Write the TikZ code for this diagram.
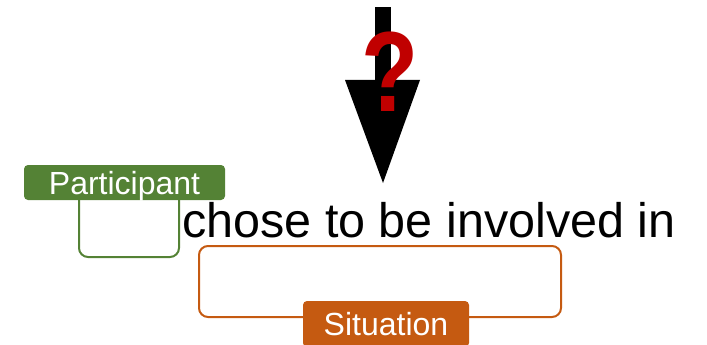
\documentclass[tikz,border=0pt]{standalone}
\usepackage{fontspec}
\setmainfont{Liberation Sans}
\definecolor{rolegreen}{HTML}{548235}
\definecolor{roleorange}{HTML}{C55A11}
\definecolor{askred}{HTML}{C00000}

\begin{document}
\begin{tikzpicture}[x=1pt, y=-1pt,
  tag/.style={fill=#1, text=white, rounded corners=4pt, inner sep=0pt,
    font=\fontsize{32}{38}\selectfont, text height=23pt, text depth=0pt},
  slot/.style={draw=#1, line width=2pt, rounded corners=9pt, inner sep=0pt}]
\useasboundingbox (0,0) rectangle (707,345);

% the arrow and its question
\fill (375,7) rectangle (391,81);
\fill (345,80) -- (420,80) -- (383,183) -- cycle;
\node[text=askred, font=\fontsize{114}{130}\selectfont\bfseries] (ask) at (390,72) {\scalebox{0.82}[1]{?}};

% participant
\node[slot=rolegreen, minimum width=100pt, minimum height=67pt] (pslot) at (129,223.5) {};
\node[tag=rolegreen, minimum width=201pt, minimum height=35pt] (ptag) at (124.5,182.5) {Participant};

\node[anchor=base west, inner sep=0pt, font=\fontsize{48.5}{58}\selectfont] (verb) at (182,237) {chose to be involved in};

% situation
\node[slot=roleorange, minimum width=362pt, minimum height=71pt] (sslot) at (380,281.5) {};
\node[tag=roleorange, minimum width=166pt, minimum height=46pt] (stag) at (386,324) {Situation};

\end{tikzpicture}
\end{document}
